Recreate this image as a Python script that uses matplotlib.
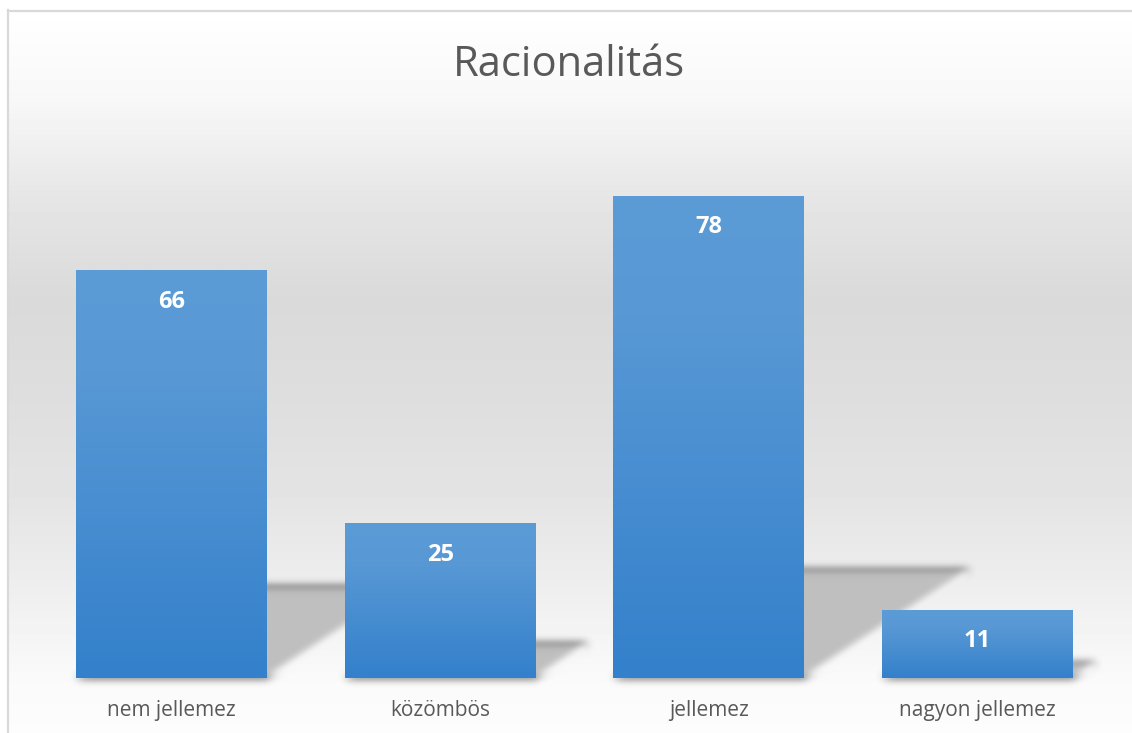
import numpy as np
import matplotlib
matplotlib.use("Agg")
import matplotlib.pyplot as plt
from matplotlib.patches import Polygon, Rectangle
from matplotlib.colors import LinearSegmentedColormap

categories = ["nem jellemez", "közömbös", "jellemez", "nagyon jellemez"]
values = [66, 25, 78, 11]
title = "Racionalitás"

W, H, DPI = 1132, 733, 100
fig = plt.figure(figsize=(W / DPI, H / DPI), dpi=DPI)

# --- chart-area background: soft vertical grey gradient with a thin frame
bg = fig.add_axes([0, 0, 1, 1], zorder=-5)
bg.set_axis_off()
stops_y = np.array([0, 10, 100, 200, 300, 400, 500, 580, 680, 733]) / H
stops_v = np.array([1.0, 1.0, 0.97, 0.90, 0.853, 0.87, 0.895, 0.93, 0.98, 0.99])
yy = (np.arange(H) + 0.5) / H
col = np.interp(yy, stops_y, stops_v)
grad = np.repeat(col[:, None], W, axis=1)
bg.imshow(grad, cmap="gray", vmin=0, vmax=1, aspect="auto",
          extent=[0, 1, 1, 0], interpolation="nearest")
bg.set_xlim(0, 1)
bg.set_ylim(1, 0)
# white margin outside the frame
bg.add_patch(Rectangle((0, 0), 7 / W, 1, color="white", lw=0))
bg.add_patch(Rectangle((0, 0), 1, 10 / H, color="white", lw=0))
bg.plot([7.5 / W, 7.5 / W], [10 / H, 1], color="#d9d9d9", lw=1.6)
bg.plot([7.5 / W, 1], [10.5 / H, 10.5 / H], color="#d9d9d9", lw=1.6)

# --- main plot axes
ax = fig.add_axes([37 / W, 1 - 678 / H, 1075 / W, 556 / H])
ax.set_facecolor("none")
ax.set_xlim(-0.5, 3.5)
ax.set_ylim(0, 90)
for s in ax.spines.values():
    s.set_visible(False)
ax.set_yticks([])
ax.set_xticks(range(len(categories)))
ax.set_xticklabels(categories, fontfamily="Open Sans", fontsize=15, color="#595959")
ax.tick_params(axis="x", length=0, pad=16)

fig.text(0.5 + 3 / W, 1 - 65 / H, title, ha="center", va="center",
         fontfamily="Open Sans", fontsize=30, color="#595959")

bar_w = 0.71


def blur_filter(sigma):
    def f(im, dpi):
        pad = int(3 * sigma) + 1
        ny, nx, d = im.shape
        a = np.zeros((ny + 2 * pad, nx + 2 * pad, d))
        a[pad:-pad, pad:-pad] = im
        x = np.arange(-pad, pad + 1)
        k = np.exp(-0.5 * (x / sigma) ** 2)
        k /= k.sum()
        b = np.zeros_like(a)
        ap = np.pad(a, ((pad, pad), (0, 0), (0, 0)))
        for i, w in enumerate(k):
            b += w * ap[i:i + a.shape[0]]
        c = np.zeros_like(a)
        bp = np.pad(b, ((0, 0), (pad, pad), (0, 0)))
        for i, w in enumerate(k):
            c += w * bp[:, i:i + a.shape[1]]
        return c, -pad, -pad
    return f


# pixel scale of the data axes, used to skew the cast shadows
p0 = ax.transData.transform((0, 0))
p1 = ax.transData.transform((1, 1))
px_x = p1[0] - p0[0]
px_y = p1[1] - p0[1]

shadow_frac = 0.225
skew = 1.53
for i, v in enumerate(values):
    hs = v * shadow_frac
    shift = skew * hs * px_y / px_x
    xl, xr = i - bar_w / 2, i + bar_w / 2
    poly = Polygon([(xl, 0), (xr, 0), (xr + shift, hs), (xl + shift, hs)],
                   closed=True, facecolor="#bfbfbf", edgecolor="none", zorder=1)
    poly.set_agg_filter(blur_filter(4.0))
    ax.add_patch(poly)

# vertical gradient fill for bars (light top -> darker bottom)
bar_cmap = LinearSegmentedColormap.from_list(
    "barfill", [(0.0, "#3380cb"), (0.45, "#4a8fd1"), (0.75, "#5898d5"), (1.0, "#5b9bd6")])
gcol = np.linspace(0, 1, 256)[:, None]
for i, v in enumerate(values):
    xl = i - bar_w / 2
    ax.imshow(gcol, cmap=bar_cmap, aspect="auto", origin="lower",
              extent=[xl, xl + bar_w, 0, v], zorder=2, interpolation="bilinear")
    ax.annotate(str(v), (i, v), xytext=(0, -22.5), textcoords="offset points",
                ha="center", va="center", color="white", fontweight="bold",
                fontfamily="Open Sans", fontsize=17, zorder=3)

ax.set_xlim(-0.5, 3.5)
ax.set_ylim(0, 90)

fig.savefig("out.png", dpi=DPI)
